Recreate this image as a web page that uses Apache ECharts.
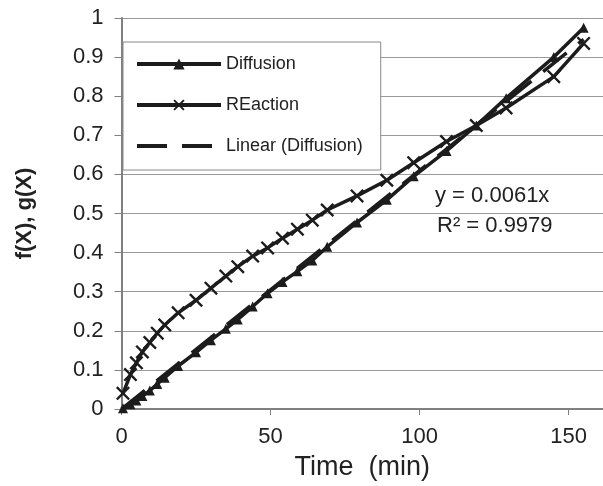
<!DOCTYPE html>
<html>
<head>
<meta charset="utf-8">
<script src="https://cdn.jsdelivr.net/npm/echarts@6/dist/echarts.min.js"></script>
<style>
html,body{margin:0;padding:0;background:#fff;}
#chart{width:603px;height:486px;}
</style>
</head>
<body>
<div id="chart"></div>
<script>
// ---- data ----
var times = [0.5, 3, 5, 7, 9.5, 12, 14.5, 19, 25, 30, 35, 39, 44, 49, 54, 59, 64, 69, 79, 89, 98, 109, 119, 129, 145, 155];
var diffusion = [0.002, 0.012, 0.022, 0.033, 0.047, 0.064, 0.08, 0.11, 0.145, 0.176, 0.205, 0.229, 0.262, 0.296, 0.325, 0.352, 0.38, 0.415, 0.477, 0.535, 0.595, 0.66, 0.725, 0.795, 0.9, 0.975];
var reaction = [0.04, 0.088, 0.118, 0.146, 0.17, 0.194, 0.215, 0.246, 0.278, 0.309, 0.34, 0.364, 0.391, 0.412, 0.437, 0.46, 0.483, 0.509, 0.545, 0.585, 0.63, 0.684, 0.725, 0.77, 0.85, 0.935];
var trendSlope = 0.0061;
var trendRange = [0, 155];
var seriesNames = ['Diffusion', 'REaction', 'Linear (Diffusion)'];
var equationText = ['y = 0.0061x', 'R\u00B2 = 0.9979'];
var xTitle = 'Time  (min)';
var yTitle = 'f(X), g(X)';

function pairs(xs, ys){ return xs.map(function(x,i){ return [x, ys[i]]; }); }
var trendData = trendRange.map(function(x){ return [x, trendSlope * x]; });

var FONT = "'Liberation Sans', Arial, sans-serif";
var INK = '#1c1c1c';
var xPath = 'path://M0,1.2L1.2,0L5,3.8L8.8,0L10,1.2L6.2,5L10,8.8L8.8,10L5,6.2L1.2,10L0,8.8L3.8,5Z';

var chart = echarts.init(document.getElementById('chart'), null, {renderer:'canvas'});
chart.setOption({
  animation: false,
  backgroundColor: '#fff',
  textStyle: {fontFamily: FONT},
  grid: {left: 121.5, top: 18, width: 481.5, height: 391, containLabel: false, outerBoundsMode: 'none'},
  legend: {
    orient: 'vertical', left: 123, top: 42,
    padding: [13, 18, 15, 12],
    itemWidth: 84, itemHeight: 14, itemGap: 23,
    backgroundColor: '#fff', borderColor: '#888', borderWidth: 1,
    textStyle: {fontFamily: FONT, fontSize: 18, color: '#222'},
    lineStyle: {width: 4},
    data: [
      {name: seriesNames[0]},
      {name: seriesNames[1]},
      {name: seriesNames[2], itemStyle: {opacity: 0}, lineStyle: {width: 4, type: [30, 15]}}
    ]
  },
  xAxis: {
    type: 'value', min: 0, max: 161.5, interval: 50,
    name: xTitle, nameLocation: 'middle', nameGap: 45,
    nameTextStyle: {fontFamily: FONT, fontSize: 27, color: '#222'},
    axisLine: {show: true, lineStyle: {color: '#808080', width: 2}},
    axisTick: {show: true, inside: false, length: 6, lineStyle: {color: '#808080', width: 1}},
    axisLabel: {fontFamily: FONT, fontSize: 22, color: '#222', margin: 17, showMaxLabel: false},
    splitLine: {show: false}
  },
  yAxis: {
    type: 'value', min: 0, max: 1, interval: 0.1,
    name: yTitle, nameLocation: 'middle', nameGap: 86,
    nameTextStyle: {fontFamily: FONT, fontSize: 22, fontWeight: 'bold', color: '#222'},
    axisLine: {show: true, lineStyle: {color: '#808080', width: 2}},
    axisTick: {show: true, inside: false, length: 7, lineStyle: {color: '#808080', width: 1}},
    axisLabel: {fontFamily: FONT, fontSize: 22, color: '#222', margin: 18},
    splitLine: {show: true, lineStyle: {color: '#9a9a9a', width: 1.2}}
  },
  series: [
    {
      name: seriesNames[0], type: 'line', data: pairs(times, diffusion),
      symbol: 'triangle', symbolSize: 10, showAllSymbol: true,
      lineStyle: {color: INK, width: 3.5}, itemStyle: {color: INK}, z: 3
    },
    {
      name: seriesNames[1], type: 'line', data: pairs(times, reaction),
      symbol: xPath, symbolSize: 14, showAllSymbol: true,
      lineStyle: {color: INK, width: 3.5}, itemStyle: {color: INK}, z: 3
    },
    {
      name: seriesNames[2], type: 'line', data: trendData,
      symbol: 'none',
      lineStyle: {color: INK, width: 3.5, type: [30, 15]}, itemStyle: {color: INK}, z: 2
    }
  ],
  graphic: [
    {type: 'text', left: 435, top: 185, style: {text: equationText[0], font: '22px ' + FONT, fill: '#222'}},
    {type: 'text', left: 437, top: 215, style: {text: equationText[1], font: '22px ' + FONT, fill: '#222'}}
  ]
});
</script>
</body>
</html>
